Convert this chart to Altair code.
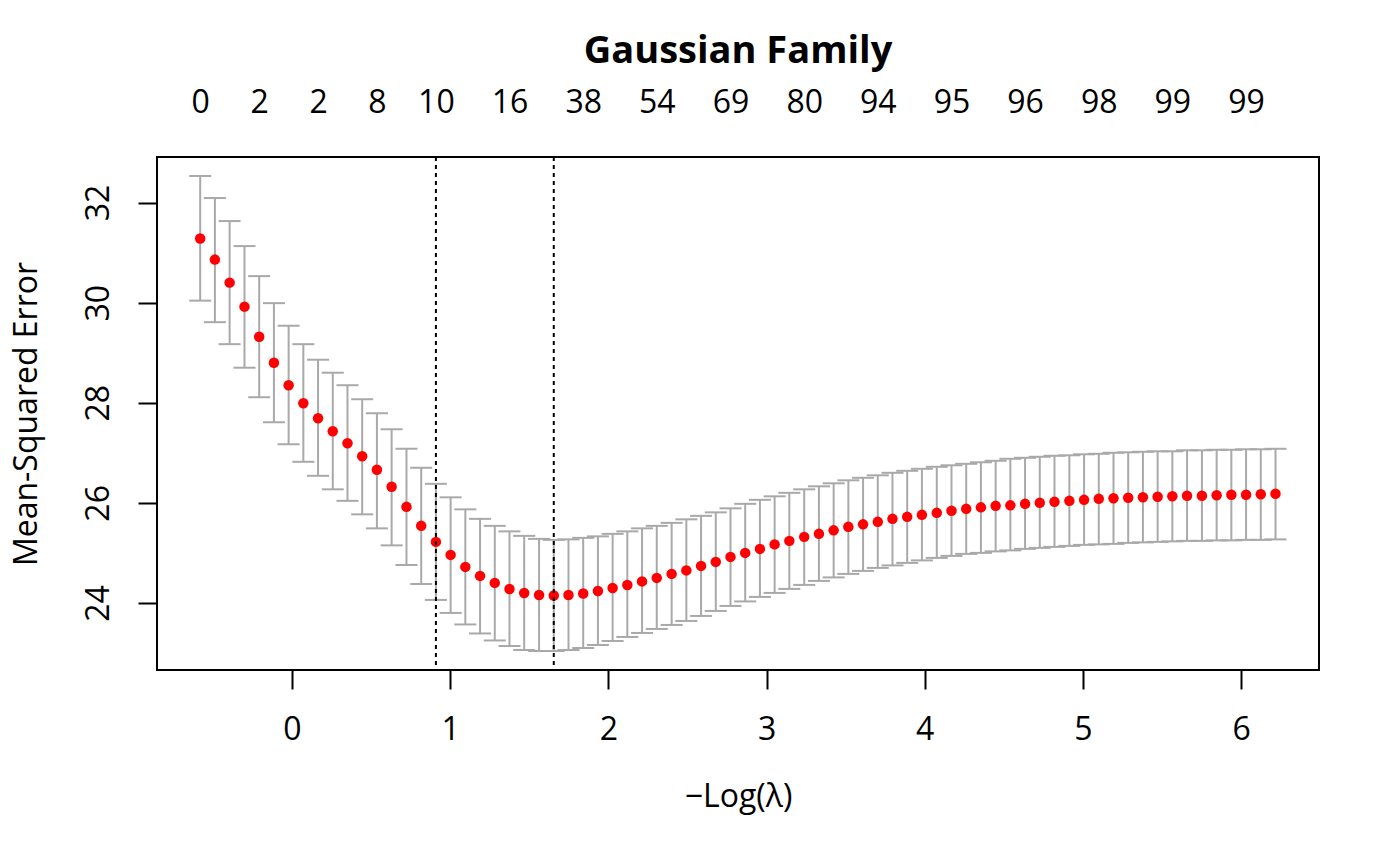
import json
import altair as alt
import pandas as pd

FONT = "Open Sans"

# -log(lambda) positions of the fitted lambda path
x_vals = [-0.580, -0.487, -0.394, -0.300, -0.207, -0.114, -0.021, 0.072, 0.165, 0.258,
          0.351, 0.444, 0.537, 0.630, 0.724, 0.817, 0.910, 1.003, 1.096, 1.189,
          1.282, 1.375, 1.468, 1.562, 1.655, 1.748, 1.841, 1.934, 2.027, 2.120,
          2.213, 2.306, 2.400, 2.493, 2.586, 2.679, 2.772, 2.865, 2.958, 3.051,
          3.144, 3.238, 3.331, 3.424, 3.517, 3.610, 3.703, 3.796, 3.889, 3.982,
          4.076, 4.169, 4.262, 4.355, 4.448, 4.541, 4.634, 4.727, 4.820, 4.914,
          5.007, 5.100, 5.193, 5.286, 5.379, 5.472, 5.565, 5.658, 5.752, 5.845,
          5.938, 6.031, 6.124, 6.217]

mse_mean = [31.28, 30.86, 30.40, 29.92, 29.32, 28.80, 28.35, 27.99, 27.69, 27.43,
            27.19, 26.93, 26.66, 26.32, 25.92, 25.54, 25.22, 24.96, 24.72, 24.54,
            24.40, 24.28, 24.20, 24.16, 24.15, 24.16, 24.19, 24.24, 24.30, 24.36,
            24.43, 24.50, 24.58, 24.65, 24.74, 24.82, 24.92, 25.00, 25.08, 25.17,
            25.24, 25.32, 25.38, 25.45, 25.52, 25.57, 25.62, 25.68, 25.72, 25.76,
            25.80, 25.84, 25.88, 25.91, 25.94, 25.95, 25.98, 26.00, 26.02, 26.04,
            26.06, 26.08, 26.09, 26.10, 26.11, 26.12, 26.13, 26.14, 26.14, 26.15,
            26.16, 26.16, 26.17, 26.18]

mse_upper = [32.53, 32.09, 31.63, 31.13, 30.53, 29.99, 29.54, 29.17, 28.86, 28.60,
             28.35, 28.07, 27.79, 27.47, 27.08, 26.70, 26.38, 26.11, 25.87, 25.68,
             25.54, 25.43, 25.34, 25.28, 25.26, 25.27, 25.30, 25.33, 25.38, 25.43,
             25.49, 25.54, 25.60, 25.67, 25.74, 25.81, 25.89, 25.98, 26.06, 26.13,
             26.20, 26.27, 26.33, 26.39, 26.45, 26.50, 26.55, 26.60, 26.64, 26.68,
             26.72, 26.75, 26.78, 26.81, 26.84, 26.88, 26.90, 26.92, 26.94, 26.95,
             26.97, 26.98, 27.00, 27.01, 27.02, 27.03, 27.03, 27.05, 27.05, 27.06,
             27.06, 27.07, 27.07, 27.08]

mse_lower = [30.04, 29.61, 29.17, 28.70, 28.11, 27.61, 27.17, 26.82, 26.54, 26.27,
             26.04, 25.77, 25.49, 25.15, 24.76, 24.38, 24.06, 23.80, 23.57, 23.39,
             23.25, 23.14, 23.06, 23.04, 23.04, 23.06, 23.10, 23.16, 23.24, 23.32,
             23.40, 23.48, 23.56, 23.64, 23.74, 23.84, 23.94, 24.03, 24.12, 24.20,
             24.28, 24.36, 24.44, 24.51, 24.58, 24.64, 24.70, 24.75, 24.80, 24.85,
             24.90, 24.94, 24.98, 25.00, 25.03, 25.05, 25.08, 25.10, 25.12, 25.14,
             25.16, 25.17, 25.18, 25.20, 25.21, 25.22, 25.23, 25.24, 25.24, 25.25,
             25.25, 25.26, 25.26, 25.27]

# number of non-zero coefficients shown on the top axis
top_pos = [-0.580, -0.207, 0.165, 0.537, 0.910, 1.375, 1.841, 2.306,
           2.772, 3.238, 3.703, 4.169, 4.634, 5.100, 5.565, 6.031]
top_labels = ["0", "2", "2", "8", "10", "16", "38", "54",
              "69", "80", "94", "95", "96", "98", "99", "99"]

# lambda.1se and lambda.min
vlines = [0.910, 1.655]

x_ticks = [0, 1, 2, 3, 4, 5, 6]
y_ticks = [24, 26, 28, 30, 32]

df = pd.DataFrame({"x": x_vals, "mean": mse_mean, "upper": mse_upper, "lower": mse_lower})
vdf = pd.DataFrame({"x": vlines})

xscale = alt.Scale(domain=[-0.853, 6.492], nice=False, zero=False)
yscale = alt.Scale(domain=[22.66, 32.91], nice=False, zero=False)

x_axis = alt.Axis(
    title="\u2212Log(\u03bb)", values=x_ticks, orient="bottom", domain=False,
    ticks=True, tickSize=19, tickWidth=2, tickColor="black",
    labelFontSize=32, labelBaseline="alphabetic", labelPadding=50,
    labelFlush=False, labelOverlap=False, labelColor="black",
    titleFontSize=32, titleFontWeight="normal", titleColor="black",
    titleBaseline="alphabetic", titleY=136, titleX=581, titleAlign="center",
)

label_expr = "{}[indexof({}, datum.value)]".format(json.dumps(top_labels), json.dumps(top_pos))
top_axis = alt.Axis(
    title=None, values=top_pos, orient="top", domain=False, ticks=False, tickSize=0,
    labelFontSize=32, labelBaseline="alphabetic", labelPadding=45,
    labelFlush=False, labelOverlap=False, labelColor="black", labelExpr=label_expr,
)

y_axis = alt.Axis(
    title="Mean-Squared Error", values=y_ticks, orient="left", domain=False,
    ticks=True, tickSize=19, tickWidth=2, tickColor="black",
    labelFontSize=32, labelAngle=270, labelAlign="center", labelBaseline="alphabetic",
    labelPadding=30, labelFlush=False, labelOverlap=False, labelColor="black",
    titleFontSize=32, titleFontWeight="normal", titleColor="black",
    titleAngle=270, titleBaseline="alphabetic", titleAlign="center",
    titleX=-121, titleY=256.5,
)

GREY = "#A9A9A9"

bars = alt.Chart(df).mark_rule(color=GREY, strokeWidth=2).encode(
    x=alt.X("x:Q", scale=xscale, axis=x_axis),
    y=alt.Y("upper:Q", scale=yscale, axis=y_axis),
    y2="lower:Q",
)
caps_up = alt.Chart(df).mark_tick(orient="horizontal", size=22, thickness=2, color=GREY, opacity=1).encode(
    x=alt.X("x:Q", scale=xscale, axis=None),
    y=alt.Y("upper:Q", scale=yscale, axis=y_axis),
)
caps_lo = alt.Chart(df).mark_tick(orient="horizontal", size=22, thickness=2, color=GREY, opacity=1).encode(
    x=alt.X("x:Q", scale=xscale, axis=None),
    y=alt.Y("lower:Q", scale=yscale, axis=y_axis),
)
pts = alt.Chart(df).mark_circle(color="#FF0000", size=110, opacity=1).encode(
    x=alt.X("x:Q", scale=xscale, axis=top_axis),
    y=alt.Y("mean:Q", scale=yscale, axis=y_axis),
)
vl = alt.Chart(vdf).mark_rule(color="black", strokeWidth=2, strokeDash=[4, 4]).encode(
    x=alt.X("x:Q", scale=xscale, axis=None),
)

chart = (
    alt.layer(bars, caps_up, caps_lo, pts, vl)
    .resolve_axis(x="independent")
    .properties(
        width=1162,
        height=513,
        autosize=alt.AutoSizeParams(type="none"),
        padding={"left": 149, "top": 149, "right": 70, "bottom": 180},
        title=alt.Title(
            "Gaussian Family", fontSize=38, fontWeight="bold", font=FONT, color="black",
            anchor="middle", frame="group", baseline="alphabetic", offset=25, dy=40,
        ),
    )
    .configure(font=FONT)
    .configure_axis(grid=False, labelFont=FONT, titleFont=FONT)
    .configure_view(stroke="black", strokeWidth=2)
)

chart.save("out.html", embed_options={"renderer": "svg", "actions": False})
